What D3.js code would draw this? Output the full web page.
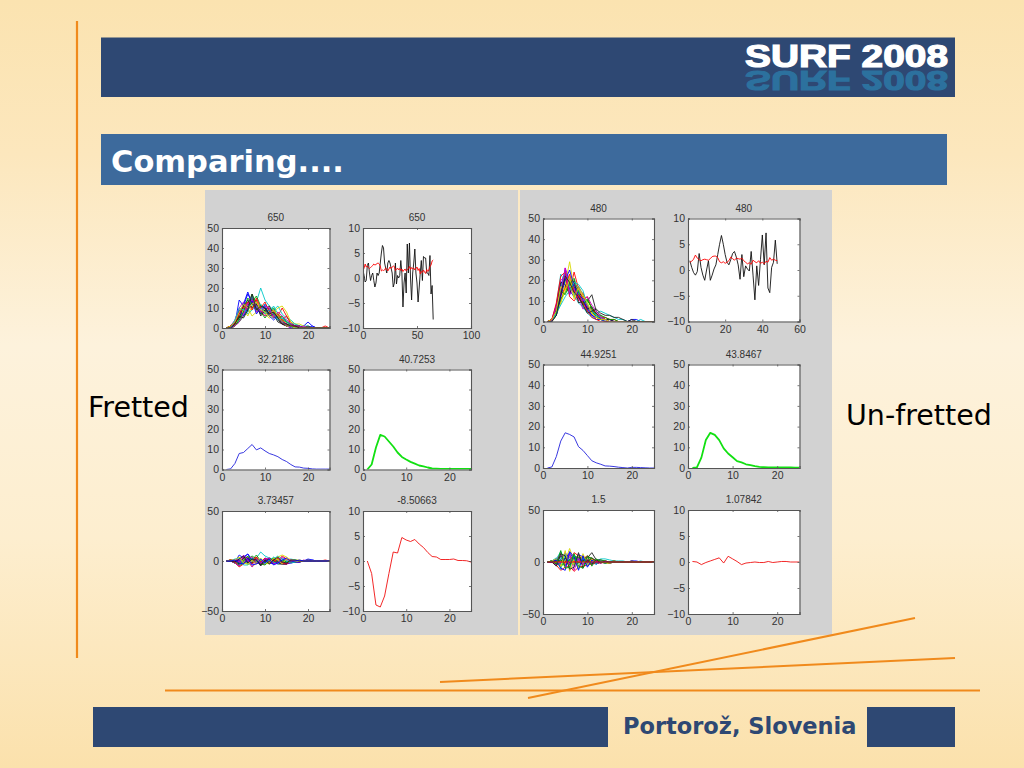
<!DOCTYPE html>
<html><head><meta charset="utf-8">
<script src="https://cdn.jsdelivr.net/npm/d3@7/dist/d3.min.js"></script>
<style>html,body{margin:0;padding:0;background:#fff;overflow:hidden}svg{display:block}</style>
</head><body><svg id="c" width="1024" height="768"></svg>
<script>
const matlabColors = ["#0000ff","#00a000","#ff0000","#00c8c8","#c800c8","#d8d800","#202020"];

const frettedTraces = [
[0,0,2,14,11,17,13,9,8,10,7,6,5,3,2,1,0,0,1,3,1,0,0,0,0],
[0,1,3,6,9,12,17,12,9,8,9,7,6,4,3,2,1,1,0,0,0,0,0,0,0],
[0,0,3,9,10,8,15,11,9,7,8,9,6,10,6,3,1,1,0,0,0,0,0,1,0],
[0,0,1,4,7,10,11,13,20,14,11,9,11,7,5,4,2,1,1,1,0,0,0,0,0],
[0,1,4,10,13,12,14,9,10,8,6,8,5,3,2,1,1,0,0,0,0,0,0,0,0],
[0,0,2,5,8,10,6,8,11,9,10,8,10,11,8,3,2,2,1,0,0,0,0,0,0],
[0,0,1,5,8,11,15,10,7,9,6,7,4,2,1,1,0,0,0,1,0,0,0,0,0],
[0,0,3,7,12,18,12,10,7,12,9,5,6,3,1,1,1,0,0,0,0,0,0,0,0],
[0,0,1,3,6,9,13,16,11,10,7,5,7,5,3,2,1,0,0,0,0,0,0,0,0],
[0,1,2,8,11,9,13,14,8,6,10,8,5,4,6,2,0,1,0,0,0,0,0,0,0],
[0,0,2,4,10,7,9,11,9,12,8,11,7,5,4,2,2,1,0,0,0,0,0,0,0],
[0,0,3,8,7,13,16,8,9,6,7,9,6,2,1,0,0,0,1,0,0,0,0,0,0],
[0,0,1,6,9,6,11,9,12,7,5,6,8,4,2,1,1,0,0,0,0,0,0,0,0],
[0,1,3,5,11,14,10,12,6,9,11,7,3,2,1,2,1,1,0,0,0,0,0,0,0],
[0,0,2,9,6,10,14,7,10,11,6,4,6,3,2,0,0,0,0,0,1,0,0,0,0],
[0,0,1,4,8,15,12,10,8,5,8,10,5,6,3,1,0,0,0,0,0,0,0,0,0],
[0,1,2,7,10,13,9,15,10,13,8,6,7,4,2,1,1,0,0,0,0,0,0,0,0],
[0,0,4,10,9,8,16,10,12,7,9,7,4,5,3,1,0,0,0,0,0,0,0,0,0],
[0,0,1,3,7,12,14,11,8,11,10,5,8,6,4,2,1,1,0,0,0,0,0,0,0],
[0,1,3,8,12,10,12,13,9,8,6,9,6,3,1,1,0,0,0,0,0,0,0,0,0],
[0,0,2,6,5,9,17,9,11,10,7,8,5,2,2,1,1,0,0,0,0,0,0,0,0]
];
const unfrettedTraces = [
[0,0,6,15,25,18,16,12,9,7,4,3,1,1,0,0,0,0,0,1,1,0,0,0,0],
[0,1,7,17,20,22,14,15,10,6,5,2,1,0,0,0,0,0,0,0,0,0,0,0,0],
[0,0,4,10,17,14,24,16,11,12,6,3,2,1,1,0,0,0,0,0,0,0,0,0,0],
[0,1,8,23,19,21,13,9,7,5,3,4,5,4,3,2,1,1,0,0,0,0,0,0,0],
[0,0,5,12,26,20,15,17,8,8,3,2,1,1,0,0,0,0,0,0,0,0,0,0,0],
[0,0,3,9,18,29,16,13,8,5,4,2,1,0,0,0,0,0,0,0,0,0,0,0,0],
[0,1,5,14,21,16,18,14,12,10,13,5,3,1,0,0,0,0,0,1,0,0,0,0,0],
[0,0,7,18,23,15,12,17,13,6,3,2,1,1,1,0,0,0,0,0,0,0,0,0,0],
[0,0,3,11,14,19,17,11,9,10,7,3,2,1,0,0,0,0,0,0,0,0,0,0,0],
[0,1,6,13,16,23,15,10,14,7,6,4,2,2,1,1,0,0,0,0,0,0,0,0,0],
[0,0,4,16,24,17,13,15,7,4,2,1,1,0,0,0,0,0,0,0,0,1,0,0,0],
[0,1,8,20,22,14,19,12,6,8,5,3,2,1,0,0,0,0,0,0,0,0,0,0,0],
[0,0,5,9,15,22,12,16,12,9,4,2,1,0,0,0,0,0,0,0,0,0,0,0,0],
[0,0,6,19,18,13,20,9,10,6,7,4,1,1,1,0,0,0,0,0,0,0,0,0,0],
[0,1,3,12,20,25,17,13,11,5,3,1,1,0,0,0,0,0,0,0,0,0,0,0,0],
[0,0,5,15,13,18,21,14,8,11,6,2,3,2,1,1,0,0,0,0,0,0,0,0,0],
[0,1,9,22,24,12,10,13,9,5,2,1,0,0,0,0,0,0,0,0,0,0,0,0,0],
[0,0,4,8,12,15,19,18,15,8,5,3,2,1,0,0,0,0,0,0,0,0,0,0,0],
[0,0,7,14,26,13,16,11,10,12,8,5,2,1,0,0,0,0,0,0,0,0,0,0,0],
[0,1,5,17,15,20,11,17,13,9,4,2,1,1,0,0,0,0,0,0,0,0,0,0,0],
[0,0,3,13,22,19,14,12,8,4,5,6,4,3,3,2,2,1,0,0,0,0,0,0,0]
];
const frettedResiduals = [
[0,0,-1,6,3,7,1,-1,-3,1,-1,-1,-1,-2,-2,-1,-1,-1,0,2,1,0,0,0,0],
[0,1,0,-2,1,2,5,2,-2,-1,1,0,0,-1,-1,0,0,0,0,0,0,0,0,0,0],
[0,0,0,1,2,-2,3,1,-2,-2,0,2,0,5,2,1,0,0,0,0,0,0,0,1,0],
[0,0,-2,-4,-1,0,-2,3,9,5,3,2,5,2,1,2,1,0,0,0,0,0,0,0,0],
[0,1,1,2,5,2,2,-1,-1,-1,-2,1,-1,-2,-2,-1,0,-1,0,0,0,0,0,0,0],
[0,0,-1,-3,0,0,-6,-2,0,0,2,1,4,6,4,1,1,1,0,0,0,0,0,0,0],
[0,0,-2,-3,0,1,3,0,-4,0,-2,0,-2,-3,-3,-1,-1,-1,0,1,0,0,0,0,0],
[0,0,0,-1,4,7,0,0,-4,3,1,-2,0,-2,-3,-1,0,0,0,0,0,0,0,0,0],
[0,0,-2,-5,-2,-1,1,6,0,1,-1,-2,1,0,-1,0,0,0,0,0,0,0,0,0,0],
[0,1,-1,0,3,-1,1,4,-3,-3,2,1,-1,-1,2,0,-1,0,0,0,0,0,0,0,0],
[0,0,-1,-4,2,-3,-3,1,-2,3,0,4,1,0,0,0,1,0,0,0,0,0,0,0,0],
[0,0,0,0,-1,3,4,-2,-2,-3,-1,2,0,-3,-3,-2,-1,-1,1,0,0,0,0,0,0],
[0,0,-2,-2,1,-4,-1,-1,1,-2,-3,-1,2,-1,-2,-1,0,0,0,0,0,0,0,0,0],
[0,1,0,-3,3,4,-2,2,-5,0,3,0,-3,-3,-3,0,0,0,0,0,0,0,0,0,0],
[0,0,-1,1,-2,0,2,-3,-1,2,-2,-3,0,-2,-2,-2,-1,-1,0,0,1,0,0,0,0],
[0,0,-2,-4,0,5,0,0,-3,-4,0,3,-1,1,-1,-1,-1,0,0,0,0,0,0,0,0],
[0,1,-1,-6,-3,2,-3,4,-1,3,-1,-2,3,-2,-3,0,0,0,0,0,0,0,0,0,0],
[0,0,2,3,-4,-4,3,0,2,-3,1,-1,-3,3,0,-2,-1,0,0,0,0,0,0,0,0],
[0,0,-2,-5,6,1,-6,2,-2,2,3,-3,-2,4,1,1,0,0,0,0,0,0,0,0,0],
[0,1,1,4,-2,-3,1,-3,3,-2,-2,3,1,-3,2,-1,0,0,0,0,0,0,0,0,0],
[0,0,-1,2,5,-2,2,1,-4,1,-3,1,4,-1,-2,1,1,0,0,0,0,0,0,0,0],
[0,0,1,-2,-3,3,-4,-3,2,-2,2,-4,-2,1,3,-1,0,1,0,0,0,0,0,0,0]
];
const unfrettedResiduals = [
[0,0,1,2,8,2,1,2,1,1,1,0,0,0,-1,0,0,0,0,1,1,0,0,0,0],
[0,1,2,4,3,6,-1,5,2,0,2,-1,0,-1,-1,0,0,0,0,0,0,0,0,0,0],
[0,0,-1,-3,0,-2,9,6,3,6,3,0,1,0,0,0,0,0,0,0,0,0,0,0,0],
[0,1,3,10,2,5,-2,-1,-1,-1,0,1,3,3,2,1,1,1,0,0,0,0,0,0,0],
[0,0,0,-1,9,4,0,7,0,2,0,-1,0,0,-1,0,0,0,0,0,0,0,0,0,0],
[0,0,-2,-4,1,13,1,3,0,-1,1,-1,0,-1,-1,0,0,0,0,0,0,0,0,0,0],
[0,1,0,1,4,0,3,4,4,4,9,2,2,0,-1,0,0,0,0,1,0,0,0,0,0],
[0,0,2,5,6,-1,-3,7,5,0,0,-1,0,0,0,0,0,0,0,0,0,0,0,0],
[0,0,-2,-2,-3,3,2,1,1,4,4,0,1,0,-1,0,0,0,0,0,0,0,0,0,0],
[0,1,1,0,-1,7,0,0,6,1,3,1,1,1,0,1,0,0,0,0,0,0,0,0,0],
[0,0,-1,3,7,1,-2,5,-1,-2,-1,-2,0,-1,0,0,0,0,0,0,0,1,0,0,0],
[0,1,3,7,5,-2,4,2,-2,2,2,0,1,0,-1,0,0,0,0,0,0,0,0,0,0],
[0,0,0,-4,-2,6,-3,6,4,3,1,-1,0,-1,-1,0,0,0,0,0,0,0,0,0,0],
[0,0,1,6,1,-3,5,-1,2,0,4,1,0,0,0,0,0,0,0,0,0,0,0,0,0],
[0,1,-2,-1,3,9,2,3,3,-1,0,-2,0,-1,0,0,0,0,0,0,0,0,0,0,0],
[0,0,0,2,-4,2,6,4,0,5,3,-1,2,1,0,1,0,0,0,0,0,0,0,0,0],
[0,0,-3,-8,-5,-4,-9,-5,-4,-3,-2,-1,-1,0,0,0,0,0,0,0,0,0,0,0,0],
[0,1,4,-7,8,-6,7,-7,5,-4,2,-2,1,0,0,0,0,0,0,0,0,0,0,0,0],
[0,0,-3,9,-4,8,-8,4,-3,5,-3,1,-1,0,0,0,0,0,0,0,0,0,0,0,0],
[0,1,3,-5,11,-9,3,-6,8,-3,3,-1,0,0,0,0,0,0,0,0,0,0,0,0,0],
[0,0,-4,8,6,-7,-5,9,-6,2,-2,2,-1,1,0,0,0,0,0,0,0,0,0,0,0],
[0,0,2,-6,-8,10,5,-8,6,-5,2,-1,0,0,0,0,0,0,0,0,0,0,0,0,0],
[0,1,-2,11,-6,-5,8,-4,-6,6,-4,3,0,-1,0,0,0,0,0,0,0,0,0,0,0],
[0,0,0,0,0,0,0,0,0,0,0,0,0,0,0,0,0,0,0,0,0,0,0,0,0]
];

const frettedBlack = [1.5,0.5,-0.8,-0.5,2.5,3,1,-0.5,0.5,1,-0.5,-1.8,-1,1,0.5,1,3,5,6.5,6,3,2,1,3,3.5,3,2,1,-1.8,-1,3,-1.2,0.5,0,0.5,3.5,1,-5.8,-1,1,-3,6.8,1,7,0,-4.4,1,3,5.8,1,-1,-4.8,-2,1,3.5,-0.5,4.3,4,4,1,1,0.5,4.5,-3.2,-1.5,-8.3];
const frettedRed = [1.5,2,2.8,2.2,2.4,2.1,1.9,2.1,2.3,2.5,2.8,2.6,2.7,2.9,3,2.8,2.4,1.4,1.6,1.5,1.6,2,1.8,1.4,1.8,2.2,1.9,2.2,2.4,2.3,1.5,1.7,2,1.6,1.9,1.5,1.8,1.3,1.6,1.8,1.4,1.6,1.9,2.3,1.7,2.1,1.8,2,1.6,1.9,2.2,1.5,1.9,0.8,1.3,1.1,1.6,1.2,0.9,1.7,1.3,1.6,2.3,2.6,3.4,3.6];
const unfrettedBlack = [1.8,0.5,-0.5,-1,-0.3,3.2,0.5,-1,-2,0,1.8,-2,-1,0.2,1,3,5,6.7,5,3,1.5,1,2,3.2,3.6,2.5,1,-1.8,3,-1.3,0.8,0.2,-0.2,3.6,-1,-5.8,0.8,-3,2,6.8,1,7.2,-3.5,-4.4,0.5,1.5,5.8,1.2];
const unfrettedRed = [1.5,1.7,2.1,2.9,2.3,2,1.8,2,2.1,2,1.9,2.2,2.6,2.7,2.7,2.4,1.6,1.4,1.6,1.3,1.5,1.8,2.5,2.2,1.9,2.3,2.2,2.1,2.3,1.8,1.5,1.2,1.4,1.1,1.9,1.6,1.4,1.8,1.3,1.5,1.2,1.7,1.5,2.4,1.9,2.1,1.9,1.8];

const frettedMeanBlue = [0,0.3,3,8,8.5,10.5,12.5,9.8,10.8,9.3,8,7.3,6.4,5,4,2.5,1.3,1.2,0.7,0.6,0.3,0.2,0.2,0.2,0.2];
const frettedMeanGreen = [0,2.5,11,17.3,16.5,14,11.5,8.5,6.3,5,3.8,2.9,2,1.6,1,0.5,0.4,0.3,0.3,0.3,0.3,0.3,0.3,0.3,0.3];
const unfrettedMeanBlue = [0,0.5,5.5,13,17,16.2,15,10.3,8.5,6,3.5,2.5,1.8,1,0.9,0.7,0.4,0.2,0,0.3,0.3,0.2,0.1,0,0];
const unfrettedMeanGreen = [0,0.3,5,13.5,17,16,13.5,9.5,7,5.2,3.3,2.7,1.8,1.4,0.9,0.5,0.4,0.3,0.3,0.3,0.3,0.3,0.3,0.2,0.2];
const frettedDiff = [0,-2.5,-8.8,-9.2,-7,-2.5,1.8,1.6,4.7,4.2,3.9,4.3,3.4,2.7,1.7,0.9,0.8,0.3,0.3,0.3,0.4,0.1,0.1,0.05,-0.2];
const unfrettedDiff = [0.1,0,-0.5,-0.1,0.2,0.5,0.8,-0.2,1.1,0.6,0.1,-0.5,-0.2,-0.1,0,-0.1,-0.1,0.1,-0.1,0,0.1,0.1,0,0,0];

const plotTitles = {f:["650","650","32.2186","40.7253","3.73457","-8.50663"],u:["480","480","44.9251","43.8467","1.5","1.07842"]};
const ticksPos = [0,10,20], ticksCount = [0,10,20,30,40,50], ticksRes = [-50,0,50], ticksTen = [-10,-5,0,5,10];

const svg = d3.select("#c");
const defs = svg.append("defs");
const g = defs.append("linearGradient").attr("id","bg").attr("x1",0).attr("y1",0).attr("x2",0).attr("y2",1);
[[0,"#fbe3b0"],[0.2,"#fce7bd"],[0.45,"#fdf2dc"],[0.7,"#fdeecf"],[1,"#fbe1ac"]].forEach(s=>g.append("stop").attr("offset",s[0]).attr("stop-color",s[1]));
svg.append("rect").attr("width",1024).attr("height",768).attr("fill","url(#bg)");
defs.append("clipPath").attr("id","barClip").append("rect").attr("x",101).attr("y",37.5).attr("width",854).attr("height",59.5);

const rect=(x,y,w,h,f)=>svg.append("rect").attr("x",x).attr("y",y).attr("width",w).attr("height",h).attr("fill",f);
const line=(a,b,c,d,w)=>svg.append("line").attr("x1",a).attr("y1",b).attr("x2",c).attr("y2",d).attr("stroke","#f08a1c").attr("stroke-width",w);

line(77,21,77,658,2.2);
rect(101,37.5,854,59.5,"#2e4873");
rect(101,134,846,51,"#3d6a9c");
rect(93,707,515,40,"#2e4873");
rect(867,707,88,40,"#2e4873");
rect(205,190,313,445,"#d2d2d2");
rect(520,190,312,445,"#d2d2d2");
line(165,690.5,980,690.5,2);
line(440,682,955,658,2);
line(528,698,915,618,2);

const txt=(x,y,s,o)=>svg.append("text").attr("x",x).attr("y",y).text(s)
  .attr("font-family",o.ff).attr("font-size",o.fs).attr("font-weight",o.fw||"normal").attr("fill",o.c).attr("text-anchor",o.a||"start");
const dv='"DejaVu Sans"', lib='"Liberation Sans"';
// header logo and its reflection
svg.append("g").attr("clip-path","url(#barClip)").append("text").attr("transform","translate(745,71) scale(1,-0.92)").text("SURF 2008")
  .attr("font-family",lib).attr("font-size",31).attr("font-weight","bold").attr("fill","#2c719e").attr("stroke","#2c719e").attr("stroke-width",1.2)
  .attr("textLength",203).attr("lengthAdjust","spacingAndGlyphs");
svg.append("text").attr("x",745).attr("y",67).text("SURF 2008")
  .attr("font-family",lib).attr("font-size",31).attr("font-weight","bold").attr("fill","#fff").attr("stroke","#fff").attr("stroke-width",1.2)
  .attr("textLength",203).attr("lengthAdjust","spacingAndGlyphs");
txt(111,172,"Comparing....",{ff:dv,fs:30.5,fw:"bold",c:"#fff"});
txt(623,734,"Portorož, Slovenia",{ff:dv,fs:22.5,fw:"bold",c:"#2e4873"});
txt(88,417,"Fretted",{ff:dv,fs:28.5,c:"#000"});
txt(846,425,"Un-fretted",{ff:dv,fs:28.5,c:"#000"});

function plot(box,title,xd,xt,yd,yt,series){
  const [x0,y0,x1,y1]=box;
  const X=d3.scaleLinear().domain(xd).range([x0,x1]);
  const Y=d3.scaleLinear().domain(yd).range([y1,y0]);
  const p=svg.append("g");
  p.append("rect").attr("x",x0).attr("y",y0).attr("width",x1-x0).attr("height",y1-y0).attr("fill","#fff");
  const cl="clip"+Math.round(x0)+"_"+Math.round(y0);
  defs.append("clipPath").attr("id",cl).append("rect").attr("x",x0).attr("y",y0).attr("width",x1-x0).attr("height",y1-y0);
  const ln=p.append("g").attr("clip-path",`url(#${cl})`);
  series.forEach(s=>{
    const path=d3.line().x((d,i)=>X(i+s.start)).y(d=>Y(d));
    ln.append("path").attr("d",path(s.v)).attr("fill","none").attr("stroke",s.c).attr("stroke-width",s.w||0.9).attr("stroke-linejoin","round");
  });
  const style=a=>{
    a.selectAll("path").attr("stroke","#555").attr("stroke-width",1.1);
    a.selectAll("line").attr("stroke","#555").attr("stroke-width",0.8);
    a.selectAll("text").attr("font-family",lib).attr("font-size",10.5).attr("fill","#333");
  };
  p.append("g").attr("transform",`translate(0,${y1})`).call(d3.axisBottom(X).tickValues(xt).tickSize(-2).tickPadding(4).tickFormat(d3.format("d"))).call(style);
  p.append("g").attr("transform",`translate(${x0},0)`).call(d3.axisLeft(Y).tickValues(yt).tickSize(-2).tickPadding(3).tickFormat(d3.format("d"))).call(style);
  p.append("g").attr("transform",`translate(0,${y0})`).call(d3.axisTop(X).tickValues(xt).tickSize(-2).tickFormat("")).call(style);
  p.append("g").attr("transform",`translate(${x1},0)`).call(d3.axisRight(Y).tickValues(yt).tickSize(-2).tickFormat("")).call(style);
  p.append("text").attr("x",(x0+x1)/2).attr("y",y0-7).attr("text-anchor","middle").text(title)
    .attr("font-family",lib).attr("font-size",10).attr("fill","#333");
}
const many=(arr)=>arr.map((v,i)=>({v,start:1,c:matlabColors[i%7]}));
const one=(v,c,w,start=1)=>[{v,start,c,w}];
const FL=[222,329.5], FR=[363,471], UL=[543,654], UR=[688,799.5];
const F=[[228,328],[369.5,469.5],[511,611]], U=[[218.5,321.5],[364.5,468],[510,614]];
const b=(h,v)=>[h[0],v[0],h[1],v[1]];

plot(b(FL,F[0]),plotTitles.f[0],[0,25],ticksPos,[0,50],ticksCount,many(frettedTraces));
plot(b(FR,F[0]),plotTitles.f[1],[0,100],[0,50,100],[-10,10],ticksTen,[{v:frettedBlack,start:0,c:"#111",w:0.9},{v:frettedRed,start:0,c:"#f00",w:0.9}]);
plot(b(FL,F[1]),plotTitles.f[2],[0,25],ticksPos,[0,50],ticksCount,one(frettedMeanBlue,"#2222dd",0.9));
plot(b(FR,F[1]),plotTitles.f[3],[0,25],ticksPos,[0,50],ticksCount,one(frettedMeanGreen,"#12e012",1.8));
plot(b(FL,F[2]),plotTitles.f[4],[0,25],ticksPos,[-50,50],ticksRes,many(frettedResiduals));
plot(b(FR,F[2]),plotTitles.f[5],[0,25],ticksPos,[-10,10],ticksTen,one(frettedDiff,"#f01010",0.9));

plot(b(UL,U[0]),plotTitles.u[0],[0,25],ticksPos,[0,50],ticksCount,many(unfrettedTraces));
plot(b(UR,U[0]),plotTitles.u[1],[0,60],[0,20,40,60],[-10,10],ticksTen,[{v:unfrettedBlack,start:1,c:"#111",w:0.9},{v:unfrettedRed,start:1,c:"#f00",w:0.9}]);
plot(b(UL,U[1]),plotTitles.u[2],[0,25],ticksPos,[0,50],ticksCount,one(unfrettedMeanBlue,"#2222dd",0.9));
plot(b(UR,U[1]),plotTitles.u[3],[0,25],ticksPos,[0,50],ticksCount,one(unfrettedMeanGreen,"#12e012",1.8));
plot(b(UL,U[2]),plotTitles.u[4],[0,25],ticksPos,[-50,50],ticksRes,many(unfrettedResiduals));
plot(b(UR,U[2]),plotTitles.u[5],[0,25],ticksPos,[-10,10],ticksTen,one(unfrettedDiff,"#f01010",0.9));
</script></body></html>
